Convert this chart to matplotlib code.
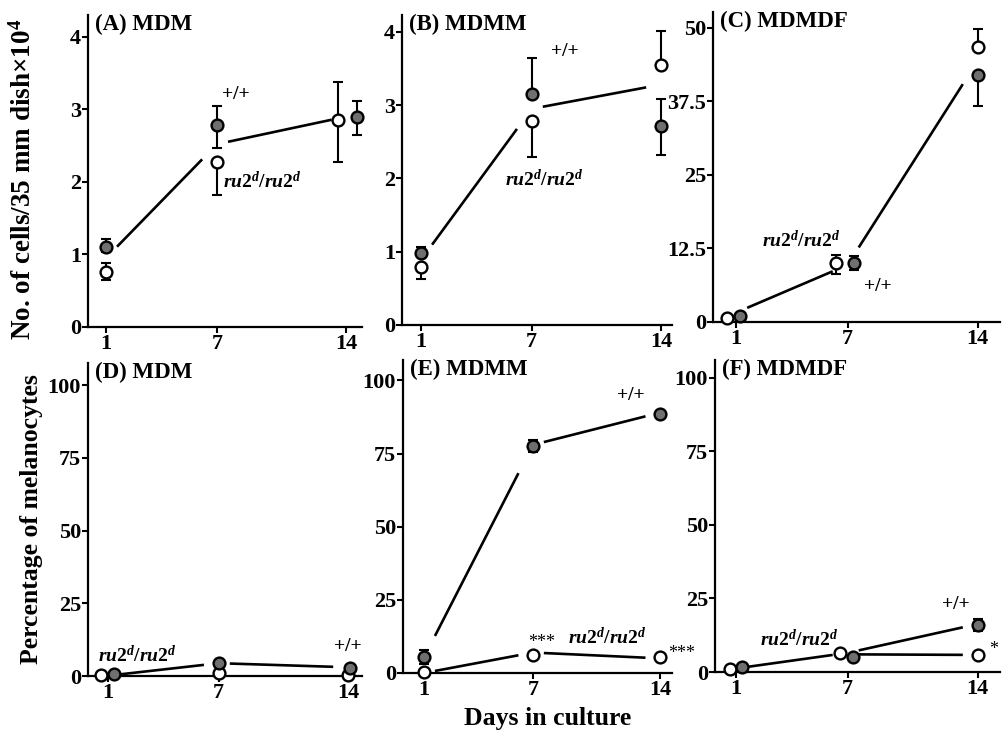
import numpy as np
import matplotlib
matplotlib.use("Agg")
import matplotlib.pyplot as plt

plt.rcParams["font.family"] = ["Liberation Serif", "DejaVu Serif"]
plt.rcParams["font.weight"] = "bold"
plt.rcParams["mathtext.fontset"] = "custom"
plt.rcParams["mathtext.rm"] = "Liberation Serif:bold"
plt.rcParams["mathtext.it"] = "Liberation Serif:italic:bold"
plt.rcParams["mathtext.bf"] = "Liberation Serif:bold"

# ---- data ----
days = [1, 7, 14]

# (A) MDM, cells x10^4
a_wt = [1.10, 2.79, 2.90]
a_wt_lo = [0.06, 0.32, 0.25]
a_wt_hi = [0.11, 0.26, 0.22]
a_ru = [0.76, 2.28, 2.85]
a_ru_lo = [0.11, 0.46, 0.57]
a_ru_hi = [0.12, 0.0, 0.52]
a_line = [0.95, 2.52, 2.90]

# (B) MDMM
b_wt = [0.98, 3.15, 2.72]
b_wt_lo = [0.0, 0.0, 0.40]
b_wt_hi = [0.08, 0.49, 0.36]
b_ru = [0.79, 2.79, 3.55]
b_ru_lo = [0.16, 0.50, 0.0]
b_ru_hi = [0.0, 0.0, 0.46]
b_line = [0.89, 2.95, 3.28]

# (C) MDMDF
c_wt = [1.0, 10.0, 42.0]
c_wt_lo = [0.0, 1.2, 5.3]
c_wt_hi = [0.0, 1.2, 0.0]
c_ru = [0.6, 10.0, 46.8]
c_ru_lo = [0.0, 1.8, 0.0]
c_ru_hi = [0.0, 1.4, 3.0]
c_line = [1.6, 9.7, 44.4]

# (D) MDM, % melanocytes
d_wt = [0.6, 4.5, 2.7]
d_wt_lo = [0.0, 0.0, 0.0]
d_wt_hi = [0.0, 0.0, 0.0]
d_ru = [0.3, 1.0, 0.2]
d_ru_lo = [0.0, 1.2, 0.0]
d_ru_hi = [0.0, 0.0, 0.0]
d_line = [0.1, 4.4, 3.0]

# (E) MDMM
e_wt = [5.5, 77.7, 88.7]
e_wt_lo = [2.5, 2.0, 0.0]
e_wt_hi = [2.5, 2.0, 0.0]
e_ru = [0.3, 6.2, 5.5]
e_ru_lo = [0.0, 0.0, 0.0]
e_ru_hi = [0.0, 0.0, 0.0]
e_line_wt = [5.4, 78.0, 89.0]
e_line_ru = [0.0, 7.0, 5.0]

# (F) MDMDF
f_wt = [1.7, 5.1, 16.0]
f_wt_lo = [0.0, 0.0, 2.0]
f_wt_hi = [0.0, 0.0, 2.0]
f_ru = [1.0, 6.5, 5.8]
f_ru_lo = [0.0, 0.0, 0.0]
f_ru_hi = [0.0, 0.0, 0.0]
f_line_wt = [1.2, 6.5, 16.3]
f_line_ru = [np.nan, 6.0, 5.8]

RU = r"$\mathit{ru2}^{\mathit{d}}\mathit{/ru2}^{\mathit{d}}$"

# ---- layout: axes boxes in pixels (left, top, right, bottom), xlim, ylim ----
W, H = 1005, 732
panels = [
    dict(box=(88, 15, 362, 327), xlim=(0.03, 14.84), ylim=(0, 4.30),
         yticks=[0, 1, 2, 3, 4], ylabels=["0", "1", "2", "3", "4"], title="(A) MDM",
         wt=(a_wt, a_wt_lo, a_wt_hi), ru=(a_ru, a_ru_lo, a_ru_hi),
         wt_dx=[0, 0, 0.57], ru_dx=[0, 0, -0.45], lines=[a_line],
         notes=[(8.0, 3.2, "+/+", "center"), (7.3, 2.0, RU, "left")]),
    dict(box=(402, 15, 672, 325), xlim=(-0.03, 14.6), ylim=(0, 4.23),
         yticks=[0, 1, 2, 3, 4], ylabels=["0", "1", "2", "3", "4"], title="(B) MDMM",
         wt=(b_wt, b_wt_lo, b_wt_hi), ru=(b_ru, b_ru_lo, b_ru_hi),
         wt_dx=[0, 0, 0], ru_dx=[0, 0, 0], lines=[b_line],
         notes=[(8.8, 3.73, "+/+", "center"), (7.7, 1.98, RU, "center")]),
    dict(box=(713, 12, 1000, 322), xlim=(-0.24, 15.2), ylim=(0, 52.7),
         yticks=[0, 12.5, 25, 37.5, 50], ylabels=["0", "12.5", "25", "37.5", "50"],
         title="(C) MDMDF",
         wt=(c_wt, c_wt_lo, c_wt_hi), ru=(c_ru, c_ru_lo, c_ru_hi),
         wt_dx=[0.2, 0.35, 0], ru_dx=[-0.5, -0.6, 0], lines=[c_line],
         notes=[(4.5, 13.9, RU, "center"), (8.6, 6.0, "+/+", "center")]),
    dict(box=(88, 363, 362, 676), xlim=(-0.08, 14.76), ylim=(0, 107.6),
         yticks=[0, 25, 50, 75, 100], ylabels=["0", "25", "50", "75", "100"],
         title="(D) MDM",
         wt=(d_wt, d_wt_lo, d_wt_hi), ru=(d_ru, d_ru_lo, d_ru_hi),
         wt_dx=[0.35, 0, 0.1], ru_dx=[-0.4, 0, 0], lines=[d_line],
         notes=[(0.45, 7.2, RU, "left"), (14.0, 10.0, "+/+", "center")]),
    dict(box=(403, 360, 672, 673), xlim=(-0.16, 14.66), ylim=(0, 107),
         yticks=[0, 25, 50, 75, 100], ylabels=["0", "25", "50", "75", "100"],
         title="(E) MDMM",
         wt=(e_wt, e_wt_lo, e_wt_hi), ru=(e_ru, e_ru_lo, e_ru_hi),
         wt_dx=[0, 0, 0], ru_dx=[0, 0, 0], lines=[e_line_wt, e_line_ru],
         notes=[(12.4, 95, "+/+", "center"), (7.5, 10.3, "***", "star"),
                (11.1, 12.0, RU, "center"), (14.45, 6.8, "***", "starleft")]),
    dict(box=(715, 360, 1000, 672), xlim=(-0.13, 15.2), ylim=(0, 106),
         yticks=[0, 25, 50, 75, 100], ylabels=["0", "25", "50", "75", "100"],
         title="(F) MDMDF",
         wt=(f_wt, f_wt_lo, f_wt_hi), ru=(f_ru, f_ru_lo, f_ru_hi),
         wt_dx=[0.3, 0.3, 0], ru_dx=[-0.3, -0.4, 0], lines=[f_line_wt, f_line_ru],
         notes=[(12.8, 22.8, "+/+", "center"), (4.4, 11.2, RU, "center"),
                (14.6, 7.5, "*", "starleft")]),
]

GRAY = "#6f6f6f"


def draw_segments(ax, vals, gap0=0.6, gap1=0.8):
    for i in range(len(days) - 1):
        x0, x1 = days[i], days[i + 1]
        y0, y1 = vals[i], vals[i + 1]
        if np.isnan(y0) or np.isnan(y1):
            continue
        s = x1 - x0
        t0, t1 = gap0 / s, 1 - gap1 / s
        ax.plot([x0 + t0 * s, x0 + t1 * s],
                [y0 + t0 * (y1 - y0), y0 + t1 * (y1 - y0)],
                color="black", lw=1.9, solid_capstyle="butt", zorder=2)


def draw_group(ax, vals, lo, hi, dx, filled):
    x = np.array(days, dtype=float) + np.array(dx)
    ax.errorbar(x, vals, yerr=[lo, hi], fmt="none", ecolor="black",
                elinewidth=1.5, capsize=3.8, capthick=1.5, zorder=3, clip_on=False)
    ax.plot(x, vals, "o", ms=8.5, mew=1.7, mec="black",
            mfc=GRAY if filled else "white", zorder=4, clip_on=False)


fig = plt.figure(figsize=(W / 100, H / 100), dpi=100)

for p in panels:
    l, t, r, b = p["box"]
    ax = fig.add_axes([l / W, 1 - b / H, (r - l) / W, (b - t) / H])
    ax.set_xlim(*p["xlim"])
    ax.set_ylim(*p["ylim"])
    for side in ("top", "right"):
        ax.spines[side].set_visible(False)
    for side in ("left", "bottom"):
        ax.spines[side].set_linewidth(1.6)
    ax.set_xticks(days)
    ax.set_xticklabels([str(d) for d in days], fontsize=16, fontweight="bold")
    ax.set_yticks(p["yticks"])
    ax.set_yticklabels(p["ylabels"], fontsize=16, fontweight="bold")
    ax.tick_params(direction="out", length=4, width=1.5, pad=1)

    for line in p["lines"]:
        draw_segments(ax, line)
    draw_group(ax, *p["ru"], p["ru_dx"], filled=False)
    draw_group(ax, *p["wt"], p["wt_dx"], filled=True)

    ax.annotate(p["title"], xy=(0, 1), xycoords="axes fraction",
                xytext=(5, -7), textcoords="offset points",
                fontsize=16.5, fontweight="bold", va="center", ha="left")

    for x, y, s, kind in p["notes"]:
        if kind == "star":
            ax.text(x, y, s, fontsize=13, fontweight="normal", ha="center",
                    va="center", clip_on=False)
        elif kind == "starleft":
            ax.text(x, y, s, fontsize=13, fontweight="normal", ha="left",
                    va="center", clip_on=False)
        elif kind == "left":
            ax.text(x, y, s, fontsize=14, ha="left", va="center")
        else:
            ax.text(x, y, s, fontsize=14, ha="center", va="center")

fig.text(23 / W, 1 - 179 / H, r"No. of cells/35 mm dish$\times$10$^{4}$",
         rotation=90, fontsize=19.5, fontweight="bold", ha="center", va="center")
fig.text(32 / W, 1 - 519 / H, "Percentage of melanocytes",
         rotation=90, fontsize=18.5, fontweight="bold", ha="center", va="center")
fig.text(548 / W, 1 - 718 / H, "Days in culture",
         fontsize=18.5, fontweight="bold", ha="center", va="center")

fig.savefig("out.png", dpi=100)
